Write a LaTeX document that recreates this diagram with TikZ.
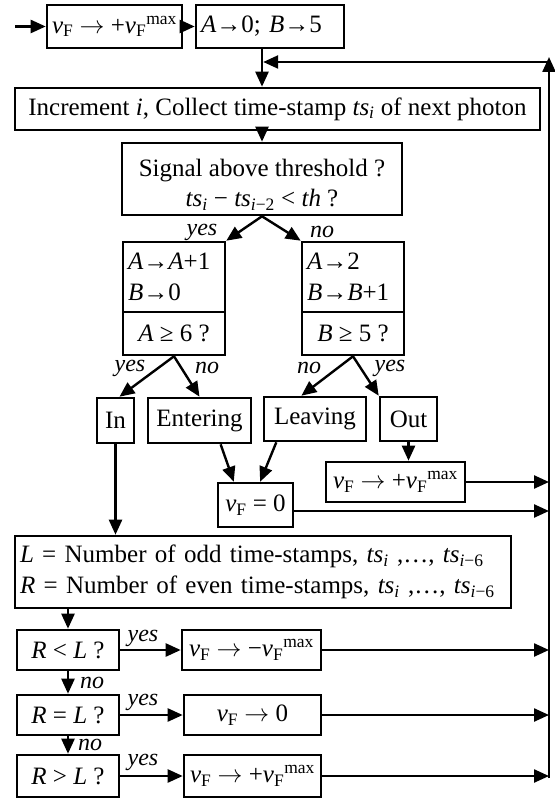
\documentclass[tikz,border=0pt]{standalone}
\usepackage{fontspec}
\setmainfont{Liberation Serif}
\usetikzlibrary{arrows.meta,calc}
\newcommand{\vF}{\textit{v}\textsubscript{F}}
\newcommand{\vFmax}{\textit{v}\textsubscript{F}\textsuperscript{max}}
\newcommand{\tsi}{\textit{ts}\textsubscript{\textit{i}}}
\begin{document}
\begin{tikzpicture}[x=1pt,y=-1pt,
  box/.style={draw, line width=2.6pt, inner xsep=5pt, inner ysep=2pt, font=\fontsize{25}{31}\selectfont},
  arr/.style={line width=2.4pt, -{Triangle[length=15pt,width=13pt]}},
  lab/.style={font=\fontsize{24}{29}\selectfont\itshape, inner sep=0pt}]
\fill[white] (0,0) rectangle (554,799);
\useasboundingbox (0,0) rectangle (554,799);

% boxes
\node[box, minimum width=135, minimum height=43] (b1) at (114.5,26.5) {\vF\ $\rightarrow$ +\vFmax};
\node[box, minimum width=148, minimum height=43, text width=138, align=left] (b2) at (270,26.5) {\textit{A}→0; \textit{B}→5};
\node[box, minimum width=525, minimum height=42] (inc) at (277.5,109) {Increment \textit{i}, Collect time-stamp \tsi\ of next photon};
\node[box, minimum width=280, minimum height=72, align=center, text height=56pt, text depth=0pt, font=\fontsize{25}{30}\selectfont] (sig) at (262,179) {Signal above threshold ?\\ \tsi\ − \textit{ts}\textsubscript{\textit{i}−2} < \textit{th} ?};
\node[box, minimum width=102, minimum height=70, text width=92, align=left] (la) at (174,277) {\textit{A}→\textit{A}+1\\\textit{B}→0};
\node[box, minimum width=102, minimum height=43] (lq) at (174,333.5) {\textit{A} ≥ 6 ?};
\node[box, minimum width=102, minimum height=70, text width=92, align=left] (ra) at (353,277) {\textit{A}→2\\\textit{B}→\textit{B}+1};
\node[box, minimum width=102, minimum height=43] (rq) at (353,333.5) {\textit{B} ≥ 5 ?};
\node[box, minimum width=37, minimum height=45] (in) at (115.5,420.5) {In};
\node[box, minimum width=103, minimum height=45] (ent) at (199.5,420.5) {Entering};
\node[box, minimum width=102, minimum height=44] (lea) at (315,419) {Leaving};
\node[box, minimum width=57, minimum height=44] (out) at (408.5,419) {Out};
\node[box, minimum width=139, minimum height=40] (vmax) at (395.5,482) {\vF\ $\rightarrow$ +\vFmax};
\node[box, minimum width=75, minimum height=44] (v0) at (255.5,505) {\vF\ = 0};
\node[box, minimum width=496, minimum height=72, text width=486, align=left] (lr) at (263,572)
  {\textit{L} = Number of odd time-stamps, \tsi\ ,…, \textit{ts}\textsubscript{\textit{i}−6}\\
   \textit{R} = Number of even time-stamps, \tsi\ ,…, \textit{ts}\textsubscript{\textit{i}−6}};
\node[box, minimum width=102, minimum height=40] (q1) at (68,650) {\textit{R} < \textit{L} ?};
\node[box, minimum width=139, minimum height=40] (a1) at (251.5,650) {\vF\ $\rightarrow$ −\vFmax};
\node[box, minimum width=102, minimum height=40] (q2) at (68,715) {\textit{R} = \textit{L} ?};
\node[box, minimum width=137, minimum height=40] (a2) at (252.5,715) {\vF\ $\rightarrow$ 0};
\node[box, minimum width=102, minimum height=42] (q3) at (68,776) {\textit{R} > \textit{L} ?};
\node[box, minimum width=137, minimum height=42] (a3) at (252.5,776) {\vF\ $\rightarrow$ +\vFmax};

% coordinates
\coordinate (st) at (15,26.5);
\coordinate (j) at (262,62);
\coordinate (rt) at (549,62);
\coordinate (rtop) at (549,57);
\coordinate (rb) at (549,778);
\coordinate (y0) at (0,511);

% connectors
\draw[arr] (st) -- (b1.west);
\draw[arr] (b1.east) -- (b2.west);
\draw[arr] (j |- b2.south) -- (j |- inc.north);
\draw[arr] (rb) -- (rtop);
\draw[arr, shorten >=1.2pt] (rt) -- (j);
\draw[arr] (j |- inc.south) -- (j |- sig.north);
\draw[arr] (sig.south) -- (la.north east);
\draw[arr] (sig.south) -- (ra.north west);
\node[lab] (ly1) at (202,232) {yes};
\node[lab] (ln1) at (322,232) {no};

\draw[arr] (lq.south) -- ($(in.north)+(4,0)$);
\draw[arr] (lq.south) -- (ent.north);
\draw[arr] (rq.south) -- ($(lea.north west)!0.37!(lea.north east)$);
\draw[arr] (rq.south) -- (out.north west);
\node[lab] (ly2) at (130,368) {yes};
\node[lab] (ln2) at (207,368) {no};
\node[lab] (ln3) at (309,368) {no};
\node[lab] (ly3) at (390,368) {yes};

\draw[arr] ($(ent.south west)!0.7!(ent.south east)$) -- ($(v0.north west)!0.22!(v0.north east)$);
\draw[arr] ($(lea.south west)!0.13!(lea.south east)$) -- ($(v0.north west)!0.56!(v0.north east)$);
\draw[arr] (out.south) -- (out.south |- vmax.north);
\draw[arr] (vmax.east) -- (vmax.east -| rt);
\draw[arr] (v0.east |- y0) -- (rt |- y0);

\draw[arr] (in.south) -- (in.south |- lr.north);
\draw[arr] (q1.north |- lr.south) -- (q1.north);
\draw[arr] (q1.south) -- (q2.north);
\draw[arr] (q2.south) -- (q3.north);
\node[lab] (ln4) at (92,683) {no};
\node[lab] (ln5) at (90,745) {no};

\draw[arr] (q1.east) -- (a1.west);
\draw[arr] (q2.east) -- (a2.west);
\draw[arr] (q3.east) -- (a3.west);
\node[lab] (ly4) at (143,638) {yes};
\node[lab] (ly5) at (143,702) {yes};
\node[lab] (ly6) at (143,762) {yes};

\draw[arr] (a1.east) -- (a1.east -| rt);
\draw[arr] (a2.east) -- (a2.east -| rt);
\draw[arr] (a3.east) -- (a3.east -| rt);
\end{tikzpicture}
\end{document}
